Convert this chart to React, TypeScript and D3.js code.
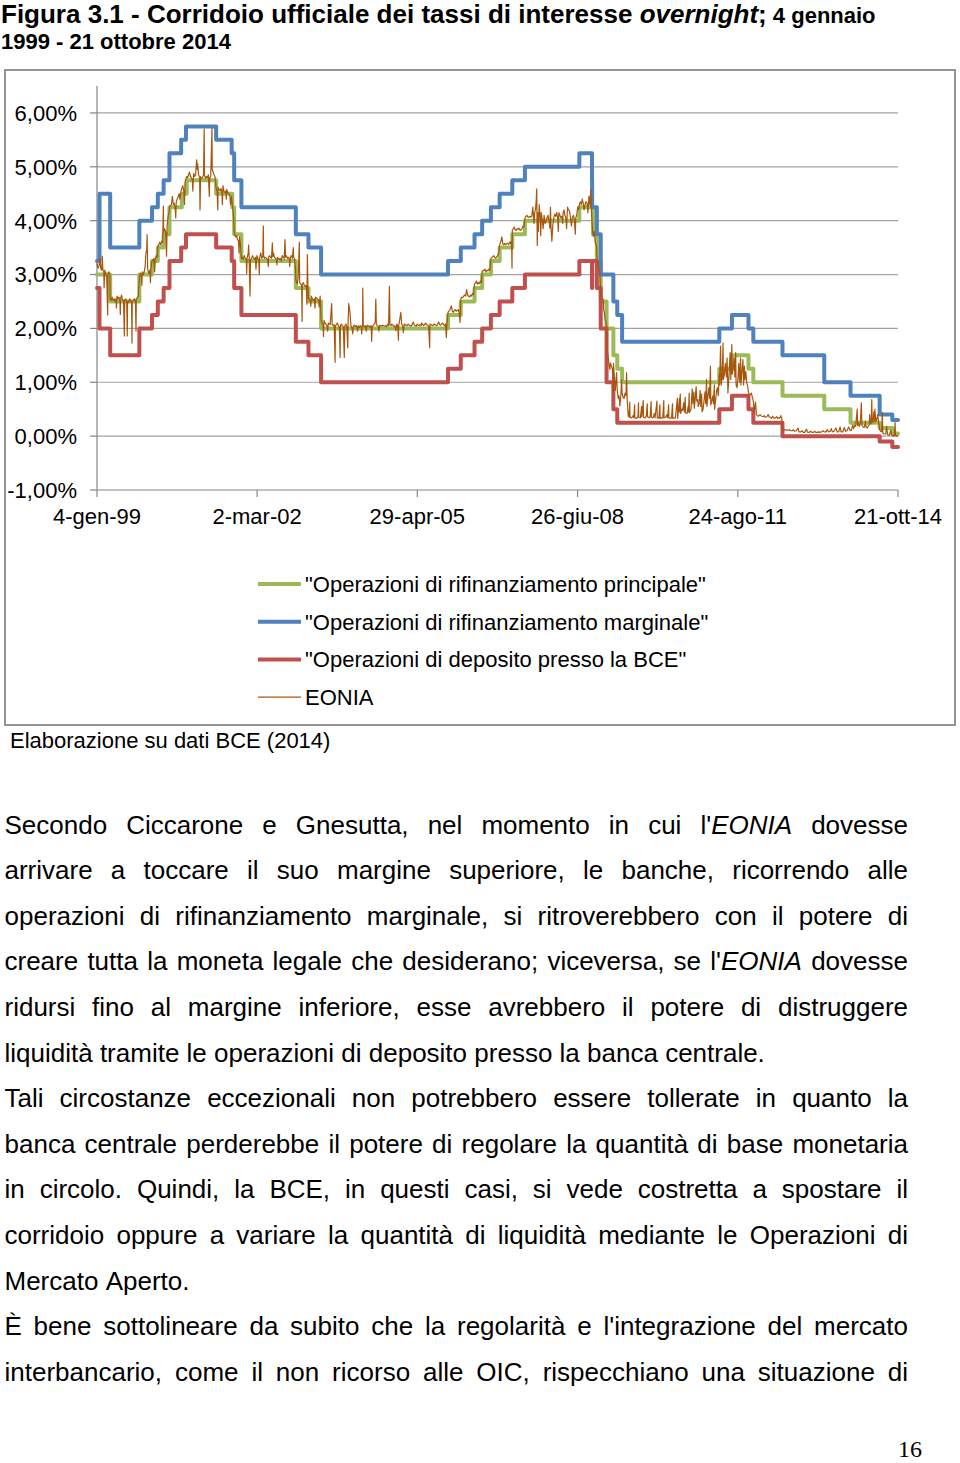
import React, { useEffect, useRef } from "react";
import * as d3 from "d3";

type Pt = [string, number];

// ---- Policy rates (step series) ----
const mro: Pt[] = [
  ["1999-01-04", 3.0], ["1999-04-09", 2.5], ["1999-11-05", 3.0], ["2000-02-04", 3.25], ["2000-03-17", 3.5],
  ["2000-04-28", 3.75], ["2000-06-09", 4.25], ["2000-09-06", 4.5], ["2000-10-11", 4.75], ["2001-05-11", 4.5],
  ["2001-09-04", 4.25], ["2001-09-18", 3.75], ["2001-11-09", 3.25], ["2002-12-06", 2.75], ["2003-03-07", 2.5],
  ["2003-06-06", 2.0], ["2005-12-06", 2.25], ["2006-03-08", 2.5], ["2006-06-15", 2.75], ["2006-08-09", 3.0],
  ["2006-10-11", 3.25], ["2006-12-13", 3.5], ["2007-03-14", 3.75], ["2007-06-13", 4.0], ["2008-07-09", 4.25],
  ["2008-10-15", 3.75], ["2008-11-12", 3.25], ["2008-12-10", 2.5], ["2009-01-21", 2.0], ["2009-03-11", 1.5],
  ["2009-04-08", 1.25], ["2009-05-13", 1.0], ["2011-04-13", 1.25], ["2011-07-13", 1.5], ["2011-11-09", 1.25],
  ["2011-12-14", 1.0], ["2012-07-11", 0.75], ["2013-05-08", 0.5], ["2013-11-13", 0.25], ["2014-06-11", 0.15],
  ["2014-09-10", 0.05], ["2014-10-21", 0.05],
];

const mlf: Pt[] = [
  ["1999-01-04", 3.25], ["1999-01-22", 4.5], ["1999-04-09", 3.5], ["1999-11-05", 4.0], ["2000-02-04", 4.25],
  ["2000-03-17", 4.5], ["2000-04-28", 4.75], ["2000-06-09", 5.25], ["2000-09-01", 5.5], ["2000-10-06", 5.75],
  ["2001-05-11", 5.5], ["2001-08-31", 5.25], ["2001-09-18", 4.75], ["2001-11-09", 4.25], ["2002-12-06", 3.75],
  ["2003-03-07", 3.5], ["2003-06-06", 3.0], ["2005-12-06", 3.25], ["2006-03-08", 3.5], ["2006-06-15", 3.75],
  ["2006-08-09", 4.0], ["2006-10-11", 4.25], ["2006-12-13", 4.5], ["2007-03-14", 4.75], ["2007-06-13", 5.0],
  ["2008-07-09", 5.25], ["2008-10-08", 4.75], ["2008-10-09", 4.25], ["2008-11-12", 3.75], ["2008-12-10", 3.0],
  ["2009-03-11", 2.5], ["2009-04-08", 2.25], ["2009-05-13", 1.75], ["2011-04-13", 2.0], ["2011-07-13", 2.25],
  ["2011-11-09", 2.0], ["2011-12-14", 1.75], ["2012-07-11", 1.5], ["2013-05-08", 1.0], ["2013-11-13", 0.75],
  ["2014-06-11", 0.4], ["2014-09-10", 0.3], ["2014-10-21", 0.3],
];

const dep: Pt[] = [
  ["1999-01-04", 2.75], ["1999-01-22", 2.0], ["1999-04-09", 1.5], ["1999-11-05", 2.0], ["2000-02-04", 2.25],
  ["2000-03-17", 2.5], ["2000-04-28", 2.75], ["2000-06-09", 3.25], ["2000-09-01", 3.5], ["2000-10-06", 3.75],
  ["2001-05-11", 3.5], ["2001-08-31", 3.25], ["2001-09-18", 2.75], ["2001-11-09", 2.25], ["2002-12-06", 1.75],
  ["2003-03-07", 1.5], ["2003-06-06", 1.0], ["2005-12-06", 1.25], ["2006-03-08", 1.5], ["2006-06-15", 1.75],
  ["2006-08-09", 2.0], ["2006-10-11", 2.25], ["2006-12-13", 2.5], ["2007-03-14", 2.75], ["2007-06-13", 3.0],
  ["2008-07-09", 3.25], ["2008-10-08", 2.75], ["2008-10-09", 3.25], ["2008-11-12", 2.75], ["2008-12-10", 2.0],
  ["2009-01-21", 1.0], ["2009-03-11", 0.5], ["2009-04-08", 0.25], ["2011-04-13", 0.5], ["2011-07-13", 0.75],
  ["2011-11-09", 0.5], ["2011-12-14", 0.25], ["2012-07-11", 0.0], ["2014-06-11", -0.1], ["2014-09-10", -0.2],
  ["2014-10-21", -0.2],
];

// ---- EONIA ----
const eonia1999: Pt[] = [
  ["1999-01-04",3.20],["1999-01-11",3.12],["1999-01-18",3.15],["1999-01-25",3.30],["1999-02-01",3.10],["1999-02-08",3.08],["1999-02-11",3.34],["1999-02-15",3.10],["1999-02-22",3.05],["1999-02-24",2.75],["1999-03-01",3.08],["1999-03-08",3.02],["1999-03-15",2.95],["1999-03-22",2.25],["1999-03-24",3.02],["1999-03-31",3.05],["1999-04-07",2.98],["1999-04-09",2.55],["1999-04-16",2.52],["1999-04-23",2.58],["1999-04-30",2.52],["1999-05-07",2.55],["1999-05-14",2.50],["1999-05-21",2.55],["1999-05-24",2.38],["1999-05-28",2.60],["1999-06-04",2.55],["1999-06-11",2.58],["1999-06-18",2.50],["1999-06-21",2.26],["1999-06-23",2.55],["1999-06-30",2.62],["1999-07-07",2.53],["1999-07-14",2.52],["1999-07-20",1.86],["1999-07-22",2.52],["1999-07-30",2.55],["1999-08-06",2.50],["1999-08-10",1.86],["1999-08-12",2.50],["1999-08-20",2.48],["1999-08-27",2.55],["1999-09-03",2.52],["1999-09-10",2.45],["1999-09-13",1.73],["1999-09-15",2.50],["1999-09-24",2.52],["1999-10-01",2.55],["1999-10-08",2.48],["1999-10-12",1.95],["1999-10-14",2.55],["1999-10-22",2.57],["1999-10-29",2.60],["1999-11-05",2.95],["1999-11-12",3.02],["1999-11-19",2.98],["1999-11-23",2.80],["1999-11-26",3.05],["1999-12-03",3.00],["1999-12-10",3.05],["1999-12-17",3.15],["1999-12-22",3.40],["1999-12-28",3.45],["1999-12-31",3.74],
];
const eonia2000: Pt[] = [
  ["2000-01-04",3.10],["2000-01-12",3.02],["2000-01-20",3.08],["2000-01-24",2.85],["2000-01-27",3.10],["2000-02-04",3.25],["2000-02-11",3.27],["2000-02-18",3.30],["2000-02-23",3.05],["2000-02-28",3.28],["2000-03-06",3.35],["2000-03-13",3.32],["2000-03-17",3.52],["2000-03-24",3.55],["2000-03-31",3.60],["2000-04-07",3.55],["2000-04-14",3.62],["2000-04-21",3.60],["2000-04-26",4.27],["2000-04-28",3.78],["2000-05-05",3.85],["2000-05-12",3.80],["2000-05-19",3.34],["2000-05-23",3.90],["2000-05-31",4.10],["2000-06-07",4.15],["2000-06-09",4.25],["2000-06-16",4.28],["2000-06-23",4.30],["2000-06-30",4.45],["2000-07-07",4.30],["2000-07-14",4.32],["2000-07-21",4.20],["2000-07-24",4.05],["2000-07-28",4.35],["2000-08-04",4.40],["2000-08-11",4.45],["2000-08-18",4.50],["2000-08-23",4.40],["2000-08-31",4.55],["2000-09-06",4.60],["2000-09-13",4.65],["2000-09-20",4.55],["2000-09-25",4.30],["2000-09-29",4.70],["2000-10-06",4.78],["2000-10-11",4.82],["2000-10-18",4.80],["2000-10-25",4.86],["2000-10-31",4.90],["2000-11-07",4.82],["2000-11-14",4.80],["2000-11-21",4.75],["2000-11-24",4.55],["2000-11-30",4.88],["2000-12-07",4.82],["2000-12-14",4.85],["2000-12-22",5.13],["2000-12-27",4.95],["2000-12-29",5.05],
];
const eonia2001: Pt[] = [
  ["2001-01-05",4.85],["2001-01-12",4.80],["2001-01-15",4.20],["2001-01-19",4.82],["2001-01-26",4.78],["2001-02-02",4.80],["2001-02-09",4.85],["2001-02-14",5.70],["2001-02-16",4.85],["2001-02-23",4.78],["2001-03-02",4.82],["2001-03-09",4.80],["2001-03-16",4.85],["2001-03-23",4.45],["2001-03-26",4.80],["2001-04-02",4.82],["2001-04-11",5.72],["2001-04-13",4.95],["2001-04-20",4.90],["2001-04-27",4.85],["2001-05-04",4.80],["2001-05-11",4.60],["2001-05-18",4.55],["2001-05-23",4.20],["2001-05-25",4.62],["2001-06-01",4.58],["2001-06-08",4.55],["2001-06-15",4.60],["2001-06-22",4.52],["2001-06-25",4.30],["2001-06-29",4.65],["2001-07-06",4.55],["2001-07-13",4.52],["2001-07-20",4.55],["2001-07-23",4.40],["2001-07-27",4.58],["2001-08-03",4.52],["2001-08-10",4.50],["2001-08-17",4.48],["2001-08-23",4.30],["2001-08-30",4.45],["2001-09-04",4.30],["2001-09-11",4.15],["2001-09-14",4.05],["2001-09-18",3.80],["2001-09-21",3.75],["2001-09-28",3.70],["2001-10-05",3.72],["2001-10-12",3.65],["2001-10-19",3.62],["2001-10-23",3.40],["2001-10-26",3.70],["2001-11-02",3.55],["2001-11-09",3.30],["2001-11-16",3.32],["2001-11-23",3.28],["2001-11-30",3.35],["2001-12-07",3.30],["2001-12-14",3.28],["2001-12-17",3.02],["2001-12-20",3.30],["2001-12-28",3.40],["2001-12-31",3.55],
];
const eonia2002: Pt[] = [
  ["2002-01-04",3.30],["2002-01-10",2.60],["2002-01-14",3.28],["2002-01-21",3.30],["2002-01-28",3.35],["2002-02-04",3.30],["2002-02-11",3.28],["2002-02-18",3.32],["2002-02-22",3.10],["2002-02-28",3.35],["2002-03-07",3.30],["2002-03-14",3.28],["2002-03-18",3.00],["2002-03-20",3.30],["2002-03-28",3.40],["2002-04-05",3.30],["2002-04-12",3.32],["2002-04-16",3.90],["2002-04-18",3.35],["2002-04-25",3.30],["2002-05-02",3.32],["2002-05-09",3.30],["2002-05-16",3.28],["2002-05-22",3.15],["2002-05-24",3.32],["2002-05-31",3.35],["2002-06-07",3.32],["2002-06-14",3.30],["2002-06-20",3.59],["2002-06-24",3.33],["2002-06-28",3.40],["2002-07-05",3.32],["2002-07-12",3.30],["2002-07-19",3.28],["2002-07-23",3.18],["2002-07-26",3.32],["2002-08-02",3.30],["2002-08-09",3.28],["2002-08-16",3.30],["2002-08-23",3.25],["2002-08-30",3.35],["2002-09-06",3.32],["2002-09-13",3.30],["2002-09-19",3.65],["2002-09-23",3.32],["2002-09-30",3.35],["2002-10-07",3.30],["2002-10-14",3.32],["2002-10-21",3.28],["2002-10-23",3.15],["2002-10-28",3.32],["2002-11-04",3.35],["2002-11-11",3.30],["2002-11-18",3.50],["2002-11-20",3.32],["2002-11-27",3.30],["2002-12-04",3.10],["2002-12-06",2.90],["2002-12-10",2.85],["2002-12-13",2.88],["2002-12-17",2.82],["2002-12-23",2.95],["2002-12-31",3.60],
];
const eonia2003: Pt[] = [
  ["2003-01-03",2.85],["2003-01-10",2.82],["2003-01-17",2.80],["2003-01-20",2.13],["2003-01-22",2.82],["2003-01-29",2.85],["2003-02-05",2.80],["2003-02-12",2.78],["2003-02-19",2.80],["2003-02-24",2.45],["2003-02-27",3.37],["2003-03-03",2.78],["2003-03-07",2.55],["2003-03-14",2.55],["2003-03-21",2.50],["2003-03-24",2.41],["2003-03-28",2.60],["2003-04-04",2.55],["2003-04-11",2.52],["2003-04-18",2.55],["2003-04-23",2.38],["2003-04-28",2.58],["2003-05-05",2.56],["2003-05-12",2.55],["2003-05-19",2.52],["2003-05-23",2.40],["2003-05-30",2.60],["2003-06-06",2.15],["2003-06-13",2.10],["2003-06-20",2.08],["2003-06-23",1.85],["2003-06-27",2.15],["2003-07-04",2.10],["2003-07-11",2.08],["2003-07-18",2.05],["2003-07-23",1.95],["2003-07-28",2.10],["2003-08-04",2.08],["2003-08-11",2.07],["2003-08-21",2.46],["2003-08-25",2.08],["2003-09-01",2.05],["2003-09-08",2.07],["2003-09-15",1.37],["2003-09-17",2.05],["2003-09-24",2.07],["2003-10-01",2.10],["2003-10-08",2.05],["2003-10-15",2.03],["2003-10-21",1.46],["2003-10-23",2.05],["2003-10-30",2.08],["2003-11-06",2.05],["2003-11-13",2.03],["2003-11-20",1.46],["2003-11-24",2.05],["2003-12-01",2.08],["2003-12-08",2.03],["2003-12-15",1.64],["2003-12-17",2.05],["2003-12-22",2.46],["2003-12-31",2.30],
];
const eonia2004: Pt[] = [
  ["2004-01-07",2.05],["2004-01-14",2.02],["2004-01-20",1.90],["2004-01-26",2.05],["2004-02-02",2.06],["2004-02-09",2.03],["2004-02-16",2.05],["2004-02-23",1.95],["2004-03-01",2.05],["2004-03-08",2.02],["2004-03-15",2.05],["2004-03-22",2.03],["2004-03-24",1.90],["2004-03-31",2.10],["2004-04-01",2.75],["2004-04-05",2.05],["2004-04-13",2.03],["2004-04-20",2.05],["2004-04-26",1.95],["2004-05-03",2.06],["2004-05-10",2.04],["2004-05-17",2.05],["2004-05-24",2.02],["2004-06-01",2.05],["2004-06-04",1.76],["2004-06-08",2.03],["2004-06-15",2.05],["2004-06-22",2.08],["2004-06-30",2.12],["2004-07-04",2.54],["2004-07-08",2.07],["2004-07-15",2.05],["2004-07-22",2.04],["2004-07-26",1.95],["2004-08-02",2.06],["2004-08-09",2.05],["2004-08-16",2.04],["2004-08-23",2.06],["2004-08-30",2.05],["2004-09-06",2.04],["2004-09-13",2.05],["2004-09-20",2.03],["2004-09-27",2.08],["2004-10-04",2.05],["2004-10-10",2.78],["2004-10-14",2.07],["2004-10-21",2.05],["2004-10-28",2.08],["2004-11-04",2.06],["2004-11-11",2.04],["2004-11-18",2.05],["2004-11-25",1.96],["2004-12-02",2.08],["2004-12-09",2.05],["2004-12-14",1.78],["2004-12-16",2.06],["2004-12-23",2.15],["2004-12-31",2.30],
];
const eonia2005: Pt[] = [
  ["2005-01-07",2.07],["2005-01-14",2.05],["2005-01-18",1.92],["2005-01-25",2.08],["2005-02-01",2.07],["2005-02-08",2.06],["2005-02-15",2.05],["2005-02-22",2.08],["2005-03-01",2.06],["2005-03-08",2.05],["2005-03-15",2.04],["2005-03-22",2.07],["2005-03-31",2.12],["2005-04-07",2.06],["2005-04-14",2.05],["2005-04-21",2.04],["2005-04-28",2.08],["2005-05-05",2.06],["2005-05-12",2.05],["2005-05-19",2.07],["2005-05-26",2.05],["2005-05-31",2.10],["2005-06-07",2.07],["2005-06-14",2.05],["2005-06-21",2.08],["2005-06-28",2.10],["2005-07-05",2.07],["2005-07-12",2.06],["2005-07-19",2.05],["2005-07-27",1.64],["2005-07-29",2.08],["2005-08-05",2.07],["2005-08-12",2.06],["2005-08-19",2.05],["2005-08-26",2.08],["2005-09-02",2.07],["2005-09-09",2.06],["2005-09-16",2.05],["2005-09-23",2.08],["2005-09-30",2.12],["2005-10-07",2.07],["2005-10-14",2.06],["2005-10-21",2.08],["2005-10-28",2.10],["2005-11-04",2.07],["2005-11-11",2.05],["2005-11-18",2.08],["2005-11-24",1.83],["2005-11-28",2.10],["2005-12-02",2.15],["2005-12-06",2.30],["2005-12-13",2.32],["2005-12-20",2.35],["2005-12-30",2.42],
];
const eonia2006: Pt[] = [
  ["2006-01-06",2.32],["2006-01-13",2.30],["2006-01-20",2.33],["2006-01-27",2.35],["2006-02-03",2.32],["2006-02-10",2.33],["2006-02-17",2.35],["2006-02-24",2.30],["2006-03-03",2.11],["2006-03-08",2.55],["2006-03-15",2.58],["2006-03-22",2.57],["2006-03-29",2.60],["2006-04-05",2.62],["2006-04-12",2.60],["2006-04-19",2.72],["2006-04-26",2.62],["2006-05-03",2.60],["2006-05-10",2.58],["2006-05-17",2.62],["2006-05-24",2.60],["2006-05-31",2.65],["2006-06-07",2.62],["2006-06-15",2.82],["2006-06-22",2.85],["2006-06-29",2.88],["2006-07-06",2.82],["2006-07-13",2.85],["2006-07-20",2.83],["2006-07-27",2.88],["2006-08-03",2.85],["2006-08-09",3.05],["2006-08-16",3.08],["2006-08-23",3.07],["2006-08-30",3.10],["2006-09-06",3.05],["2006-09-13",3.08],["2006-09-20",3.07],["2006-09-27",3.10],["2006-10-04",3.08],["2006-10-11",3.30],["2006-10-18",3.32],["2006-10-25",3.33],["2006-11-01",3.35],["2006-11-08",3.32],["2006-11-15",3.30],["2006-11-22",3.33],["2006-11-29",3.35],["2006-12-06",3.40],["2006-12-13",3.55],["2006-12-20",3.60],["2006-12-29",3.70],
];
const eonia2007: Pt[] = [
  ["2007-01-05",3.57],["2007-01-12",3.55],["2007-01-19",3.58],["2007-01-26",3.56],["2007-02-02",3.57],["2007-02-09",3.58],["2007-02-16",3.56],["2007-02-23",3.60],["2007-03-02",3.58],["2007-03-09",3.62],["2007-03-12",3.12],["2007-03-14",3.82],["2007-03-21",3.85],["2007-03-28",3.88],["2007-04-04",3.83],["2007-04-11",3.82],["2007-04-18",3.85],["2007-04-25",3.84],["2007-05-02",3.86],["2007-05-09",3.82],["2007-05-16",3.83],["2007-05-23",3.85],["2007-05-30",3.90],["2007-06-06",3.88],["2007-06-13",4.05],["2007-06-20",4.08],["2007-06-27",4.10],["2007-07-04",4.07],["2007-07-11",4.06],["2007-07-18",4.08],["2007-07-25",4.07],["2007-08-01",4.08],["2007-08-09",4.25],["2007-08-13",4.10],["2007-08-17",3.95],["2007-08-22",4.15],["2007-08-28",4.20],["2007-09-03",4.40],["2007-09-06",4.59],["2007-09-10",3.54],["2007-09-14",4.15],["2007-09-18",3.80],["2007-09-24",4.30],["2007-10-01",4.05],["2007-10-05",3.72],["2007-10-09",4.15],["2007-10-16",4.00],["2007-10-22",3.85],["2007-10-29",4.10],["2007-11-05",3.95],["2007-11-12",3.98],["2007-11-19",4.05],["2007-11-26",4.10],["2007-12-03",4.00],["2007-12-10",3.86],["2007-12-14",4.25],["2007-12-18",3.88],["2007-12-24",3.62],["2007-12-31",3.92],
];
const eonia2008: Pt[] = [
  ["2008-01-07",4.05],["2008-01-14",4.12],["2008-01-21",4.08],["2008-01-28",4.15],["2008-02-04",4.05],["2008-02-08",3.80],["2008-02-13",4.15],["2008-02-20",4.10],["2008-02-27",4.05],["2008-03-05",4.08],["2008-03-11",3.95],["2008-03-14",4.15],["2008-03-20",4.20],["2008-03-27",4.10],["2008-04-03",4.05],["2008-04-08",3.85],["2008-04-15",4.25],["2008-04-22",4.20],["2008-04-29",4.18],["2008-05-06",4.05],["2008-05-13",3.90],["2008-05-19",4.05],["2008-05-27",4.10],["2008-06-03",4.02],["2008-06-10",3.75],["2008-06-13",4.05],["2008-06-20",4.10],["2008-06-27",4.25],["2008-07-04",4.20],["2008-07-09",4.30],["2008-07-16",4.35],["2008-07-23",4.30],["2008-07-30",4.40],["2008-08-06",4.32],["2008-08-12",4.20],["2008-08-19",4.30],["2008-08-26",4.35],["2008-09-02",4.33],["2008-09-09",4.15],["2008-09-16",4.45],["2008-09-23",4.30],["2008-09-29",4.58],["2008-10-02",4.30],["2008-10-08",4.00],["2008-10-13",3.80],["2008-10-17",3.71],["2008-10-24",3.80],["2008-10-31",3.60],["2008-11-10",3.52],["2008-11-14",3.25],["2008-11-21",3.20],["2008-11-28",3.10],["2008-12-04",3.03],["2008-12-11",2.60],["2008-12-18",2.55],["2008-12-28",2.54],["2008-12-31",2.35],
];
const eonia2009: Pt[] = [
  ["2009-01-05",2.30],["2009-01-12",2.15],["2009-01-21",2.04],["2009-01-26",1.60],["2009-02-02",1.45],["2009-02-09",1.30],["2009-02-14",1.24],["2009-02-18",1.36],["2009-02-25",1.30],["2009-03-04",1.25],["2009-03-10",0.80],["2009-03-12",1.35],["2009-03-18",1.10],["2009-03-25",0.85],["2009-04-03",1.18],["2009-04-08",0.85],["2009-04-15",0.70],["2009-04-21",0.75],["2009-04-27",0.56],["2009-05-04",0.75],["2009-05-09",1.05],["2009-05-13",0.80],["2009-05-20",0.72],["2009-05-27",0.70],["2009-06-03",0.80],["2009-06-10",0.75],["2009-06-14",1.18],["2009-06-18",0.70],["2009-06-26",0.37],["2009-06-30",0.45],["2009-07-03",0.35],["2009-07-07",0.63],["2009-07-09",0.35],["2009-07-20",0.34],["2009-07-31",0.38],["2009-08-05",0.34],["2009-08-11",0.58],["2009-08-13",0.34],["2009-08-25",0.33],["2009-09-04",0.36],["2009-09-08",0.62],["2009-09-10",0.35],["2009-09-22",0.34],["2009-09-30",0.55],["2009-10-02",0.36],["2009-10-12",0.66],["2009-10-14",0.35],["2009-10-26",0.34],["2009-11-03",0.37],["2009-11-10",0.60],["2009-11-12",0.36],["2009-11-24",0.34],["2009-12-01",0.36],["2009-12-08",0.64],["2009-12-10",0.35],["2009-12-22",0.34],["2009-12-31",0.42],
];
const eonia2010: Pt[] = [
  ["2010-01-05",0.34],["2010-01-19",0.65],["2010-01-21",0.34],["2010-01-29",0.33],["2010-02-02",0.34],["2010-02-09",0.58],["2010-02-11",0.33],["2010-02-23",0.34],["2010-03-02",0.34],["2010-03-09",0.66],["2010-03-11",0.34],["2010-03-23",0.35],["2010-03-31",0.40],["2010-04-06",0.34],["2010-04-13",0.58],["2010-04-15",0.34],["2010-04-27",0.33],["2010-05-04",0.34],["2010-05-11",0.60],["2010-05-13",0.33],["2010-05-25",0.34],["2010-06-01",0.34],["2010-06-15",0.70],["2010-06-17",0.33],["2010-06-30",0.70],["2010-07-01",0.45],["2010-07-06",0.78],["2010-07-09",0.42],["2010-07-16",0.50],["2010-07-23",0.48],["2010-07-30",0.62],["2010-08-04",0.45],["2010-08-10",0.72],["2010-08-13",0.43],["2010-08-24",0.42],["2010-08-31",0.55],["2010-09-03",0.45],["2010-09-08",0.80],["2010-09-10",0.44],["2010-09-21",0.50],["2010-09-30",0.88],["2010-10-05",0.60],["2010-10-12",0.82],["2010-10-15",0.52],["2010-10-22",0.70],["2010-10-28",0.92],["2010-11-02",0.65],["2010-11-09",0.68],["2010-11-12",0.55],["2010-11-19",0.60],["2010-11-26",0.85],["2010-12-01",0.55],["2010-12-07",0.78],["2010-12-10",0.45],["2010-12-17",0.50],["2010-12-31",0.82],
];
const eonia2011: Pt[] = [
  ["2011-01-05",0.60],["2011-01-11",1.05],["2011-01-14",0.55],["2011-01-21",0.75],["2011-01-28",0.90],["2011-02-02",0.70],["2011-02-08",1.30],["2011-02-11",0.58],["2011-02-18",0.65],["2011-02-25",0.75],["2011-03-02",0.60],["2011-03-08",0.95],["2011-03-10",0.50],["2011-03-18",0.68],["2011-03-25",0.85],["2011-03-31",0.90],["2011-04-06",0.75],["2011-04-12",1.15],["2011-04-15",0.95],["2011-04-22",1.67],["2011-04-27",0.95],["2011-05-04",1.10],["2011-05-10",1.73],["2011-05-12",1.05],["2011-05-20",1.15],["2011-05-27",1.35],["2011-06-03",1.10],["2011-06-08",1.45],["2011-06-14",0.80],["2011-06-21",1.10],["2011-06-30",1.55],["2011-07-05",1.05],["2011-07-12",1.70],["2011-07-15",1.15],["2011-07-22",1.25],["2011-07-29",1.45],["2011-08-03",1.10],["2011-08-09",1.55],["2011-08-12",0.95],["2011-08-19",0.90],["2011-08-26",1.10],["2011-08-31",1.35],["2011-09-06",1.00],["2011-09-13",1.45],["2011-09-16",0.95],["2011-09-23",1.20],["2011-09-30",1.42],["2011-10-05",0.95],["2011-10-11",1.30],["2011-10-14",1.05],["2011-10-21",1.20],["2011-10-28",0.98],["2011-11-02",0.95],["2011-11-09",0.82],["2011-11-16",0.75],["2011-11-23",0.78],["2011-11-30",0.80],["2011-12-07",0.72],["2011-12-14",0.65],["2011-12-21",0.45],["2011-12-30",0.63],
];
const eonia2012: Pt[] = [
  ["2012-01-05",0.40],["2012-01-13",0.38],["2012-01-20",0.37],["2012-01-31",0.40],["2012-02-07",0.38],["2012-02-14",0.37],["2012-02-24",0.36],["2012-03-01",0.38],["2012-03-09",0.35],["2012-03-20",0.36],["2012-03-30",0.40],["2012-04-05",0.36],["2012-04-13",0.35],["2012-04-24",0.33],["2012-04-30",0.37],["2012-05-08",0.34],["2012-05-18",0.33],["2012-05-31",0.36],["2012-06-06",0.33],["2012-06-15",0.34],["2012-06-22",0.33],["2012-06-29",0.38],["2012-07-06",0.33],["2012-07-11",0.13],["2012-07-18",0.11],["2012-07-31",0.12],["2012-08-08",0.11],["2012-08-20",0.11],["2012-08-31",0.12],["2012-09-07",0.10],["2012-09-20",0.10],["2012-09-28",0.12],["2012-10-05",0.09],["2012-10-19",0.10],["2012-10-31",0.15],["2012-11-07",0.08],["2012-11-20",0.08],["2012-11-30",0.10],["2012-12-07",0.07],["2012-12-18",0.07],["2012-12-31",0.13],
];
const eonia2013: Pt[] = [
  ["2013-01-08",0.07],["2013-01-18",0.07],["2013-01-31",0.09],["2013-02-08",0.07],["2013-02-19",0.07],["2013-02-28",0.09],["2013-03-08",0.07],["2013-03-19",0.07],["2013-03-28",0.08],["2013-04-09",0.07],["2013-04-19",0.08],["2013-04-30",0.10],["2013-05-08",0.08],["2013-05-20",0.08],["2013-05-31",0.12],["2013-06-07",0.08],["2013-06-20",0.09],["2013-06-28",0.14],["2013-07-05",0.08],["2013-07-17",0.09],["2013-07-31",0.15],["2013-08-09",0.08],["2013-08-20",0.08],["2013-08-30",0.17],["2013-09-06",0.08],["2013-09-18",0.08],["2013-09-30",0.16],["2013-10-08",0.09],["2013-10-18",0.10],["2013-10-31",0.17],["2013-11-08",0.12],["2013-11-13",0.10],["2013-11-20",0.11],["2013-11-29",0.21],["2013-12-06",0.14],["2013-12-13",0.20],["2013-12-20",0.18],["2013-12-31",0.50],
];
const eonia2014: Pt[] = [
  ["2014-01-03",0.20],["2014-01-08",0.25],["2014-01-15",0.18],["2014-01-22",0.22],["2014-01-30",0.62],["2014-02-03",0.20],["2014-02-12",0.17],["2014-02-19",0.16],["2014-02-26",0.22],["2014-02-28",0.28],["2014-03-05",0.17],["2014-03-14",0.15],["2014-03-21",0.19],["2014-03-28",0.21],["2014-03-31",0.40],["2014-04-04",0.25],["2014-04-11",0.23],["2014-04-15",0.68],["2014-04-18",0.30],["2014-04-24",0.25],["2014-04-30",0.45],["2014-05-06",0.28],["2014-05-08",0.50],["2014-05-13",0.27],["2014-05-20",0.30],["2014-05-27",0.40],["2014-06-04",0.25],["2014-06-11",0.12],["2014-06-18",0.09],["2014-06-25",0.08],["2014-06-30",0.44],["2014-07-04",0.06],["2014-07-11",0.04],["2014-07-18",0.04],["2014-07-25",0.04],["2014-07-31",0.18],["2014-08-07",0.03],["2014-08-14",0.02],["2014-08-21",0.02],["2014-08-29",0.11],["2014-09-05",0.03],["2014-09-10",0.01],["2014-09-17",0.00],["2014-09-24",0.01],["2014-09-30",0.25],["2014-10-03",0.01],["2014-10-10",0.00],["2014-10-17",0.01],["2014-10-21",0.01],
];
const eonia: Pt[] = [
  ...eonia1999, ...eonia2000, ...eonia2001, ...eonia2002, ...eonia2003, ...eonia2004, ...eonia2005,
  ...eonia2006, ...eonia2007, ...eonia2008, ...eonia2009, ...eonia2010, ...eonia2011, ...eonia2012,
  ...eonia2013, ...eonia2014,
];

// ---- Axes ----
const yTicks = [-1, 0, 1, 2, 3, 4, 5, 6];
const xTickDates = ["1999-01-04", "2002-03-02", "2005-04-29", "2008-06-26", "2011-08-24", "2014-10-21"];
const xTickLabels = ["4-gen-99", "2-mar-02", "29-apr-05", "26-giu-08", "24-ago-11", "21-ott-14"];

const legendLabels = [
  "\"Operazioni di rifinanziamento principale\"",
  "\"Operazioni di rifinanziamento marginale\"",
  "\"Operazioni di deposito presso la BCE\"",
  "EONIA",
];

// ---- Body text (italic between underscores) ----
const bodyLines = [
  "Secondo Ciccarone e Gnesutta, nel momento in cui l'_EONIA_ dovesse",
  "arrivare a toccare il suo margine superiore, le banche, ricorrendo alle",
  "operazioni di rifinanziamento marginale, si ritroverebbero con il potere di",
  "creare tutta la moneta legale che desiderano; viceversa, se l'_EONIA_ dovesse",
  "ridursi fino al margine inferiore, esse avrebbero il potere di distruggere",
  "liquidità tramite le operazioni di deposito presso la banca centrale.",
  "Tali circostanze eccezionali non potrebbero essere tollerate in quanto la",
  "banca centrale perderebbe il potere di regolare la quantità di base monetaria",
  "in circolo. Quindi, la BCE, in questi casi, si vede costretta a spostare il",
  "corridoio oppure a variare la quantità di liquidità mediante le Operazioni di",
  "Mercato Aperto.",
  "È bene sottolineare da subito che la regolarità e l'integrazione del mercato",
  "interbancario, come il non ricorso alle OIC, rispecchiano una situazione di",
];
const bodyEndLines = [5, 10];

const FONT = "'Liberation Sans', Arial, Helvetica, sans-serif";
const GREEN = "#9BBB59";
const BLUE = "#4F81BD";
const RED = "#C0504D";
const BROWN = "#A8560E";

const parse = d3.timeParse("%Y-%m-%d");
const x = d3.scaleTime().domain([parse("1999-01-04")!, parse("2014-10-21")!]).range([97, 898]);
const y = d3.scaleLinear().domain([-1, 6.5]).range([490, 86]);

const stepLine = d3.line<Pt>().x((d) => x(parse(d[0])!)).y((d) => y(d[1])).curve(d3.curveStepAfter);
const plainLine = d3.line<Pt>().x((d) => x(parse(d[0])!)).y((d) => y(d[1]));

const series = [
  { label: legendLabels[0], data: mro, color: GREEN, width: 4, step: true },
  { label: legendLabels[1], data: mlf, color: BLUE, width: 4, step: true },
  { label: legendLabels[2], data: dep, color: RED, width: 4, step: true },
  { label: legendLabels[3], data: eonia, color: BROWN, width: 1.2, step: false },
];

const BODY_LEFT = 4.5;
const BODY_RIGHT = 908;
const BODY_TOP = 833.5;
const BODY_LH = 45.6;
const BODY_FS = 26;

export default function App() {
  const bodyRef = useRef<SVGGElement>(null);

  useEffect(() => {
    if (!bodyRef.current) return;
    const g = d3.select(bodyRef.current);
    g.selectAll("*").remove();
    bodyLines.forEach((line, i) => {
      const yy = BODY_TOP + i * BODY_LH;
      const words = line.split(" ");
      const nodes = words.map((w) => {
        const t = g
          .append("text")
          .attr("y", yy)
          .attr("font-family", FONT)
          .attr("font-size", BODY_FS)
          .attr("fill", "#000");
        const parts = w.split("_");
        parts.forEach((p, k) => {
          if (!p) return;
          t.append("tspan").attr("font-style", k % 2 === 1 ? "italic" : "normal").text(p);
        });
        return t;
      });
      const widths = nodes.map((n) => (n.node() as SVGTextElement).getComputedTextLength());
      const total = d3.sum(widths);
      const justify = !bodyEndLines.includes(i) && words.length > 1;
      const gap = justify ? (BODY_RIGHT - BODY_LEFT - total) / (words.length - 1) : BODY_FS * 0.278;
      let cx = BODY_LEFT;
      nodes.forEach((n, k) => {
        n.attr("x", cx);
        cx += widths[k] + gap;
      });
    });
  }, []);

  const fmt = (v: number) => v.toFixed(2).replace(".", ",") + "%";

  return (
    <svg
      width={960}
      height={1463}
      style={{ position: "absolute", left: 0, top: 0, display: "block", background: "#fff" }}
      fontFamily={FONT}
    >
      <rect x={0} y={0} width={960} height={1463} fill="#fff" />
      {/* Title */}
      <text x={1} y={22.5} fontSize={26} fontWeight="bold" fill="#000">
        {"Figura 3.1 - Corridoio ufficiale dei tassi di interesse "}
        <tspan fontStyle="italic">overnight</tspan>
        {";"}
        <tspan fontSize={22}>{" 4 gennaio"}</tspan>
      </text>
      <text x={1} y={49} fontSize={22} fontWeight="bold" fill="#000">
        1999 - 21 ottobre 2014
      </text>

      {/* Chart frame */}
      <rect x={5} y={70} width={950} height={655} fill="#fff" stroke="#8a8a8a" strokeWidth={1.8} />

      {/* Gridlines */}
      {yTicks.map((t) => (
        <line key={"g" + t} x1={97} x2={898} y1={y(t)} y2={y(t)} stroke={t === -1 ? "#868686" : "#a3a3a3"} strokeWidth={1.2} />
      ))}
      {/* y axis */}
      <line x1={97} x2={97} y1={y(6.5)} y2={y(-1)} stroke="#868686" strokeWidth={1.2} />
      {yTicks.map((t) => (
        <g key={"yt" + t}>
          <line x1={90} x2={97} y1={y(t)} y2={y(t)} stroke="#868686" strokeWidth={1.2} />
          <text x={77} y={y(t)} dy="0.36em" textAnchor="end" fontSize={22} fill="#000">
            {fmt(t)}
          </text>
        </g>
      ))}
      {/* x ticks */}
      {xTickDates.map((d, i) => {
        const xx = x(parse(d)!);
        return (
          <g key={"xt" + d}>
            <line x1={xx} x2={xx} y1={490} y2={497} stroke="#868686" strokeWidth={1.2} />
            <text x={xx} y={524} textAnchor="middle" fontSize={22} fill="#000">
              {xTickLabels[i]}
            </text>
          </g>
        );
      })}

      {/* Series */}
      {series.map((s) => (
        <path
          key={s.label}
          d={(s.step ? stepLine : plainLine)(s.data) || ""}
          fill="none"
          stroke={s.color}
          strokeWidth={s.width}
          strokeLinejoin="round"
          strokeLinecap="round"
        />
      ))}

      {/* Legend */}
      {series.map((s, i) => {
        const cy = 584 + i * 37.7;
        return (
          <g key={"lg" + i}>
            <line x1={258} x2={301} y1={cy} y2={cy} stroke={s.color} strokeWidth={s.step ? 4 : 1.2} />
            <text x={305} y={cy} dy="0.36em" fontSize={22} fill="#000">
              {s.label}
            </text>
          </g>
        );
      })}

      {/* Source */}
      <text x={10} y={748} fontSize={22} fill="#000">
        Elaborazione su dati BCE (2014)
      </text>

      {/* Body */}
      <g ref={bodyRef} />

      {/* Page number */}
      <text x={898} y={1457} fontSize={24} fontFamily="'Liberation Serif', 'Times New Roman', serif" fill="#000">
        16
      </text>
    </svg>
  );
}
